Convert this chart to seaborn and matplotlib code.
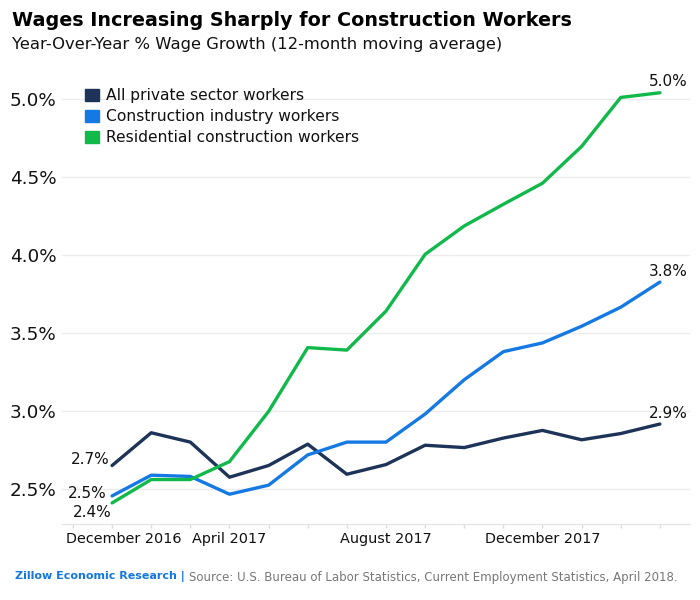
import matplotlib
matplotlib.use("Agg")
import matplotlib.pyplot as plt
import matplotlib.patches as mpatches
import matplotlib.transforms as mtransforms
import seaborn as sns
import pandas as pd
import numpy as np

# ---- data ----
months = ["2017-01", "2017-02", "2017-03", "2017-04", "2017-05", "2017-06", "2017-07",
          "2017-08", "2017-09", "2017-10", "2017-11", "2017-12", "2018-01", "2018-02", "2018-03"]
all_private = [2.65, 2.86, 2.80, 2.575, 2.65, 2.787, 2.594, 2.656, 2.78, 2.765, 2.826, 2.875, 2.815, 2.855, 2.916]
construction = [2.455, 2.588, 2.58, 2.466, 2.524, 2.718, 2.80, 2.80, 2.98, 3.20, 3.38, 3.436, 3.543, 3.665, 3.826]
residential = [2.41, 2.56, 2.56, 2.675, 2.997, 3.406, 3.39, 3.64, 4.004, 4.186, 4.325, 4.46, 4.696, 5.01, 5.04]
series_names = ["All private sector workers", "Construction industry workers", "Residential construction workers"]
colors = ["#1d3358", "#1479e3", "#11b94a"]
tick_months = ["2016-12", "2017-04", "2017-08", "2017-12"]
tick_labels = ["December 2016", "April 2017", "August 2017", "December 2017"]
yticks = [2.5, 3.0, 3.5, 4.0, 4.5, 5.0]
start_labels = ["2.7%", "2.5%", "2.4%"]
end_labels = ["2.9%", "3.8%", "5.0%"]

base = pd.Period("2016-12", freq="M")
def midx(m):
    return (pd.Period(m, freq="M") - base).n

x = [midx(m) for m in months]
df = pd.concat([
    pd.DataFrame({"x": x, "value": vals, "series": name})
    for name, vals in zip(series_names, [all_private, construction, residential])
])

sns.set_theme(style="white")
plt.rcParams["font.family"] = ["DejaVu Sans"]

fig = plt.figure(figsize=(7, 6), dpi=100)
ax = fig.add_axes([62/700, 1 - 524/600, (690 - 62)/700, (524 - 60)/600])

sns.lineplot(data=df, x="x", y="value", hue="series", palette=colors,
             hue_order=series_names, linewidth=2.4, ax=ax, legend=False)

ax.set_xlim(-0.28, 15.77)
ax.set_ylim(2.275, 5.25)

ax.set_yticks(yticks)
ax.set_yticklabels([f"{v:.1f}%" for v in yticks], fontsize=13.2, color="#111111")
ax.yaxis.grid(True, color="#ececec", linewidth=1)
ax.xaxis.grid(False)
ax.tick_params(axis="y", length=0, pad=4)

ax.set_xticks(range(0, 16), minor=True)
ax.set_xticks([midx(m) for m in tick_months])
ax.set_xticklabels(tick_labels, fontsize=10.4, color="#111111")
ax.tick_params(axis="x", which="both", bottom=True, direction="out", length=3,
               color="#dddddd", width=1, pad=3)
first = ax.get_xticklabels()[0]
first.set_horizontalalignment("left")
first.set_transform(first.get_transform() + mtransforms.ScaledTranslation(-7/100, 0, fig.dpi_scale_trans))

for s in ["top", "right", "left"]:
    ax.spines[s].set_visible(False)
ax.spines["bottom"].set_color("#e6e6e6")
ax.spines["bottom"].set_linewidth(1)
ax.set_xlabel("")
ax.set_ylabel("")

# start labels
first_vals = [all_private[0], construction[0], residential[0]]
offsets = [(-2, 4), (-3.6, 1.4), (0, -7)]
for lab, v, (dx, dy) in zip(start_labels, first_vals, offsets):
    ax.annotate(lab, (x[0], v), xytext=(dx, dy), textcoords="offset points",
                ha="right", va="center", fontsize=11, color="#111111")
# end labels
last_vals = [all_private[-1], construction[-1], residential[-1]]
for lab, v in zip(end_labels, last_vals):
    ax.annotate(lab, (x[-1], v), xytext=(6, 2.5), textcoords="offset points",
                ha="center", va="bottom", fontsize=11, color="#111111")

handles = [mpatches.Patch(color=c, label=n) for c, n in zip(colors, series_names)]
leg = ax.legend(handles=handles, loc="upper left", bbox_to_anchor=(0.027, 0.952), frameon=False,
                fontsize=11.2, handlelength=0.88, handleheight=0.88, handletextpad=0.45,
                labelspacing=0.38, borderaxespad=0)
for t in leg.get_texts():
    t.set_color("#111111")

fig.text(12/700, 1 - 20/600, "Wages Increasing Sharply for Construction Workers",
         fontsize=13.8, fontweight="bold", color="#000000", va="center", ha="left")
fig.text(12/700, 1 - 44/600, "Year-Over-Year % Wage Growth (12-month moving average)",
         fontsize=11.8, color="#111111", va="center", ha="left")

t1 = fig.text(15/700, 1 - 577/600, "Zillow Economic Research |", fontsize=8,
              fontweight="bold", color="#1277e1", va="center", ha="left")
fig.canvas.draw()
bb = t1.get_window_extent()
fig.text((bb.x1 + 4)/700, 1 - 577/600,
         "Source: U.S. Bureau of Labor Statistics, Current Employment Statistics, April 2018.",
         fontsize=8.5, color="#777777", va="center", ha="left")

fig.savefig("out.png", dpi=100)
